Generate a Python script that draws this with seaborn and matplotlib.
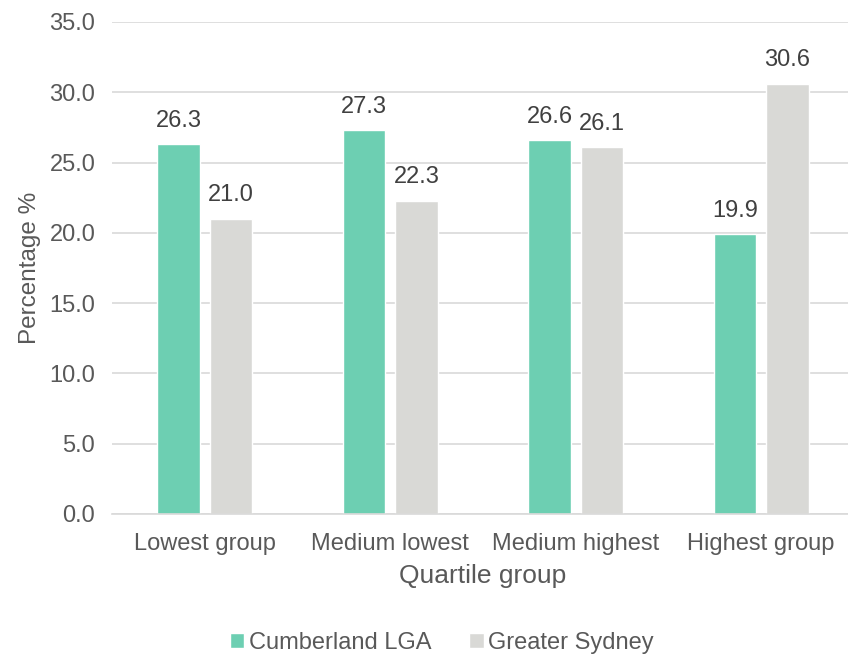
import matplotlib
matplotlib.use('Agg')
import matplotlib.pyplot as plt
import seaborn as sns
import pandas as pd

# Data
groups = ['Lowest group', 'Medium lowest', 'Medium highest', 'Highest group']
cumberland = [26.3, 27.3, 26.6, 19.9]
greater_sydney = [21.0, 22.3, 26.1, 30.6]
series = ['Cumberland LGA', 'Greater Sydney']
colors = ['#6DCFB2', '#D9D9D6']

df = pd.DataFrame({
    'Quartile group': groups * 2,
    'Percentage': cumberland + greater_sydney,
    'Area': [series[0]] * 4 + [series[1]] * 4,
})

sns.set_style('white')
plt.rcParams['font.family'] = ['Liberation Sans', 'DejaVu Sans']

fig = plt.figure(figsize=(8.48, 6.56), dpi=100)
ax = fig.add_axes([0.132, 0.2165, 0.875, 0.75])

sns.barplot(data=df, x='Quartile group', y='Percentage', hue='Area',
            palette=colors, width=0.565, gap=0.19, ax=ax, saturation=1)

for cont in ax.containers:
    ax.bar_label(cont, fmt='%.1f', padding=9, fontsize=17, color='#404040')

ax.set_ylim(0, 35)
ax.set_yticks([0, 5, 10, 15, 20, 25, 30, 35])
ax.set_yticklabels([f'{v:.1f}' for v in ax.get_yticks()])
ax.yaxis.grid(True, color='#D9D9D9', linewidth=1.2)
ax.set_axisbelow(True)
for s in ['top', 'right', 'left']:
    ax.spines[s].set_visible(False)
ax.spines['bottom'].set_color('#D9D9D9')
ax.spines['bottom'].set_linewidth(1.2)
ax.tick_params(axis='both', length=0, labelsize=17, labelcolor='#595959', pad=14)
ax.tick_params(axis='y', pad=12)
ax.set_xlabel('Quartile group', fontsize=19, color='#595959', labelpad=6)
ax.set_ylabel('Percentage %', fontsize=17.5, color='#595959', labelpad=6)

ax.legend(loc='center', bbox_to_anchor=(0.445, -0.262), ncol=2, frameon=False,
          fontsize=17, labelcolor='#595959', handlelength=0.6, handleheight=0.6,
          handletextpad=0.2, columnspacing=1.6)

fig.savefig('out.png', dpi=100)
